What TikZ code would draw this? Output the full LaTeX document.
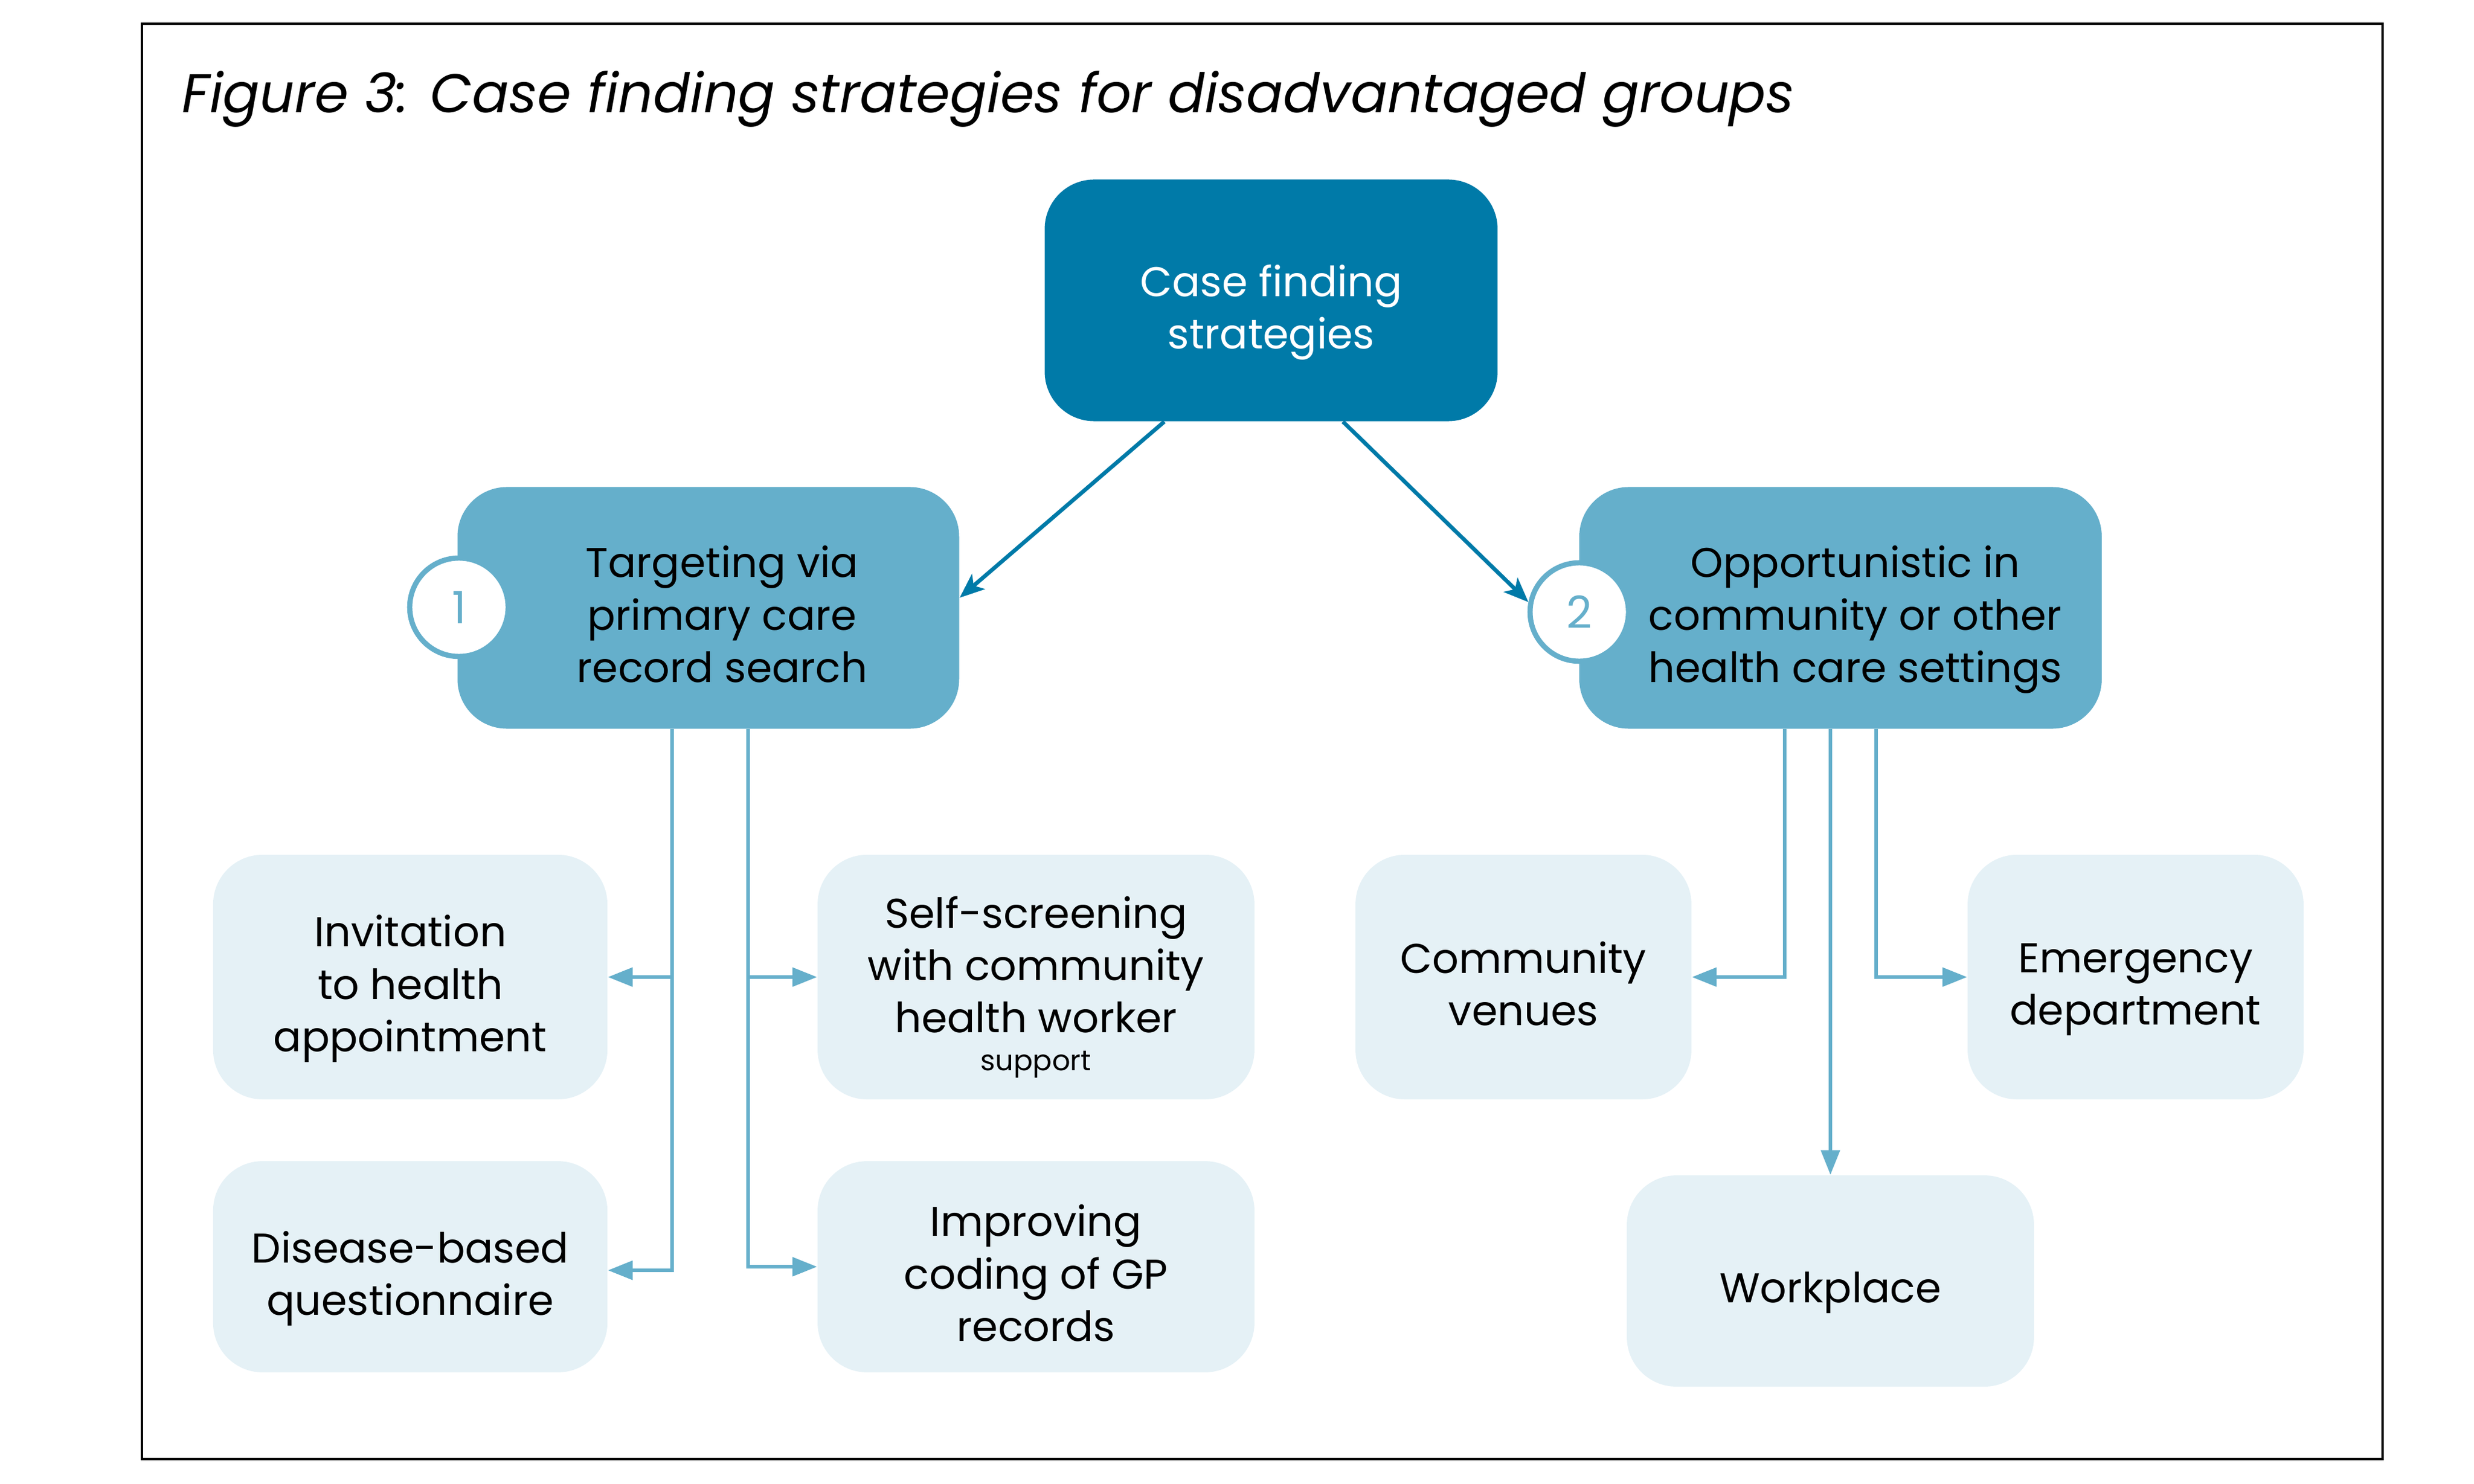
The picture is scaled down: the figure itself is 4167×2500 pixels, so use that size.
\documentclass[tikz,border=0pt]{standalone}
\usepackage{fontspec}
\setmainfont{Poppins}
\usetikzlibrary{arrows.meta,calc}
\definecolor{darkblue}{RGB}{0,122,168}
\definecolor{midblue}{RGB}{101,175,203}
\definecolor{lightblue}{RGB}{229,241,246}
\newcommand\tph{\vphantom{dg}}
\begin{document}
\begin{tikzpicture}[x=0.24pt,y=-0.24pt,
  every node/.style={inner sep=0pt, align=center},
  boxtxt/.style={font=\fontsize{16.8}{21.2}\selectfont, yshift=-4.8pt},
  topbox/.style={fill=darkblue, rounded corners=20pt, minimum width=183.1pt, minimum height=97.7pt},
  midbox/.style={fill=midblue, rounded corners=20pt, minimum height=97.7pt},
  leafbox/.style={fill=lightblue, rounded corners=20pt},
  numcirc/.style={circle, fill=white, draw=midblue, line width=2.1pt, minimum size=39.8pt, text=midblue, font=\fontsize{18}{21.6}\selectfont},
  lightarr/.style={draw=midblue, line width=1.5pt, -{Triangle[length=10pt,width=7.5pt]}},
  darkarr/.style={draw=darkblue, line width=1.6pt, -{Stealth[length=10pt,width=8pt,inset=2.5pt]}}
]
\useasboundingbox (0,0) rectangle (4167,2500);
\draw[line width=1pt, black] (239,40) rectangle (4013,2458);
\node[anchor=base west, font=\fontsize{22}{26}\selectfont\itshape] (title) at (306,190) {Figure 3: Case finding strategies for disadvantaged groups};

% boxes
\node[topbox] (top) at (2141,506) {};
\node[midbox, minimum width=202.8pt] (L1) at (1193,1024) {};
\node[midbox, minimum width=211.2pt] (R1) at (3100,1024) {};
\node[leafbox, minimum width=159.4pt, minimum height=98.9pt] (inv) at (691,1646) {};
\node[leafbox, minimum width=159.4pt, minimum height=85.4pt] (dis) at (691,2134) {};
\node[leafbox, minimum width=176.6pt, minimum height=98.9pt] (self) at (1745,1646) {};
\node[leafbox, minimum width=176.6pt, minimum height=85.4pt] (imp) at (1745,2134) {};
\node[leafbox, minimum width=135.8pt, minimum height=98.9pt] (com) at (2566,1646) {};
\node[leafbox, minimum width=135.8pt, minimum height=98.9pt] (eme) at (3597,1646) {};
\node[leafbox, minimum width=164.6pt, minimum height=85.4pt] (wor) at (3083,2158) {};

\node[numcirc] (c1) at (773,1023) {1};
\node[numcirc] (c2) at (2660,1031) {2};

% texts
\node[boxtxt, text=white] (topt) at (top) {\tph Case finding\\strategies\tph};
\node[boxtxt, xshift=5.6pt] (L1t) at (L1) {\tph Targeting via\\primary care\\record search\tph};
\node[boxtxt, xshift=6pt] (R1t) at (R1) {\tph Opportunistic in\\community or other\\health care settings\tph};
\node[boxtxt] (invt) at (inv) {\tph Invitation\\to health\\appointment\tph};
\node[boxtxt] (dist) at (dis) {\tph Disease-based\\questionnaire\tph};
\node[boxtxt] (selft) at (self) {\tph Self-screening\\with community\\health worker\\[-6pt]{\fontsize{11.5}{13}\selectfont support}\vphantom{g}};
\node[boxtxt] (impt) at (imp) {\tph Improving\\coding of GP\\records\tph};
\node[boxtxt] (comt) at (com) {\tph Community\\venues\tph};
\node[boxtxt] (emet) at (eme) {\tph Emergency\\department\tph};
\node[boxtxt] (wort) at (wor) {\tph Workplace\tph};

% connectors
\draw[darkarr] ($(top.south)+(-180,0)$) -- ($(L1.east)+(0,-17)$);
\draw[darkarr] ($(top.south)+(121,0)$) -- (c2.169);

\coordinate (ta) at (1132,0);
\coordinate (tb) at (1260,0);
\coordinate (tc) at (3006,0);
\coordinate (td) at (3083,0);
\coordinate (te) at (3160,0);
\draw[lightarr] (L1.south -| ta) |- (inv.east);
\draw[lightarr] (L1.south -| ta) |- ($(dis.east)+(0,6)$);
\draw[lightarr] (L1.south -| tb) |- (self.west);
\draw[lightarr] (L1.south -| tb) |- (imp.west);
\draw[lightarr] (R1.south -| tc) |- (com.east);
\draw[lightarr] (R1.south -| te) |- (eme.west);
\draw[lightarr] (R1.south -| td) -- (wor.north -| td);
\end{tikzpicture}
\end{document}
